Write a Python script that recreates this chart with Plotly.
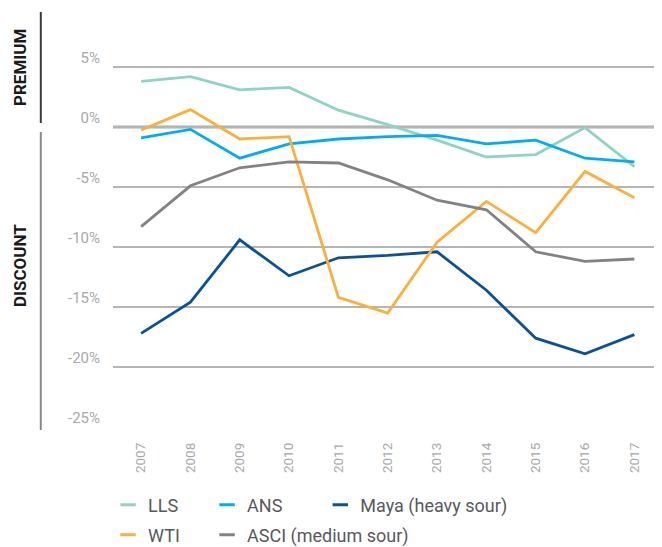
"""
Crude oil price differentials vs. Brent, 2007-2017.
"""
import plotly.graph_objects as go

years = ["2007", "2008", "2009", "2010", "2011", "2012", "2013", "2014", "2015", "2016", "2017"]

lls = [3.8, 4.2, 3.1, 3.3, 1.4, 0.2, -1.1, -2.5, -2.3, -0.05, -3.3]
ans = [-0.9, -0.2, -2.6, -1.4, -1.0, -0.8, -0.7, -1.4, -1.1, -2.6, -2.9]
maya = [-17.2, -14.6, -9.4, -12.4, -10.9, -10.7, -10.4, -13.6, -17.6, -18.9, -17.3]
wti = [-0.25, 1.45, -1.0, -0.8, -14.2, -15.5, -9.6, -6.2, -8.8, -3.7, -5.9]
asci = [-8.3, -4.9, -3.4, -2.9, -3.0, -4.4, -6.1, -6.9, -10.4, -11.2, -11.0]

y_ticks = [5, 0, -5, -10, -15, -20, -25]
y_tick_text = ["5%", "0%", "-5%", "-10%", "-15%", "-20%", "-25%"]

# name, values, colour, legend slot
series = [
    ("LLS", lls, "#8fd3c4", "legend"),
    ("ANS", ans, "#00aeef", "legend2"),
    ("Maya (heavy sour)", maya, "#0a5294", "legend3"),
    ("WTI", wti, "#fbb03b", "legend4"),
    ("ASCI (medium sour)", asci, "#808285", "legend5"),
]

FONT = "Roboto, Liberation Sans, sans-serif"

fig = go.Figure()

for name, values, color, legend in series:
    fig.add_trace(go.Scatter(x=years, y=values, name=name, mode="lines",
                             line=dict(color=color, width=2.8),
                             showlegend=False, legendgroup=name))
    # short dash legend swatch
    fig.add_trace(go.Scatter(x=[None], y=[None], name=name, mode="markers",
                             marker=dict(symbol="line-ew-open", size=11, color=color,
                                         line=dict(color=color, width=3)),
                             legend=legend, legendgroup=name))

# emphasised 5% and 0% lines
fig.add_hline(y=5, line_color="#6d6e71", line_width=1.8, layer="below")
fig.add_hline(y=0, line_color="#4d4d4f", line_width=2.6, layer="below")

# premium / discount brackets
fig.add_shape(type="line", xref="paper", yref="paper", x0=-0.132, x1=-0.132,
              y0=(427 - 12) / 414, y1=(427 - 123) / 414,
              line=dict(color="#3a3a3a", width=2))
fig.add_shape(type="line", xref="paper", yref="paper", x0=-0.132, x1=-0.132,
              y0=(427 - 132) / 414, y1=(427 - 430) / 414,
              line=dict(color="#8a8a8a", width=2))
fig.add_annotation(text="PREMIUM", xref="paper", yref="paper",
                   x=-0.17, y=(427 - 68) / 414, xanchor="center", yanchor="middle",
                   showarrow=False, textangle=-90,
                   font=dict(family=FONT, size=17, color="#1a1a1a", weight="bold"))
fig.add_annotation(text="DISCOUNT", xref="paper", yref="paper",
                   x=-0.17, y=(427 - 266) / 414, xanchor="center", yanchor="middle",
                   showarrow=False, textangle=-90,
                   font=dict(family=FONT, size=17, color="#1a1a1a", weight="bold"))

fig.update_xaxes(
    type="category",
    range=[-0.57, 10.52],
    showgrid=False,
    zeroline=False,
    showline=False,
    tickangle=-90,
    ticks="",
    ticklabelstandoff=12,
    tickfont=dict(family=FONT, size=13.5, color="#a7a9ac"),
)
fig.update_yaxes(
    range=[-25, 9.5],
    tickvals=y_ticks,
    ticktext=y_tick_text,
    showgrid=True,
    gridcolor="#b5b5b5",
    gridwidth=1.6,
    zeroline=False,
    showline=False,
    ticks="",
    ticklabelstandoff=12,
    ticklabelshift=-9,
    tickfont=dict(family=FONT, size=15, color="#a7a9ac"),
)

legend_style = dict(
    orientation="h",
    xanchor="left",
    yanchor="middle",
    bgcolor="rgba(0,0,0,0)",
    font=dict(family=FONT, size=18, color="#58595b"),
    itemclick=False,
)
row1 = -(505 - 427) / 414
row2 = -(535 - 427) / 414

# page body adds an 8px offset, so the figure is 8px smaller than the window
fig.update_layout(
    width=654,
    height=539,
    margin=dict(l=105, r=2, t=5, b=120, autoexpand=False),
    plot_bgcolor="white",
    paper_bgcolor="white",
    showlegend=True,
    legend=dict(legend_style, x=-0.009, y=row1),
    legend2=dict(legend_style, x=0.172, y=row1),
    legend3=dict(legend_style, x=0.379, y=row1),
    legend4=dict(legend_style, x=-0.009, y=row2),
    legend5=dict(legend_style, x=0.172, y=row2),
)

fig.write_html("out.html")
